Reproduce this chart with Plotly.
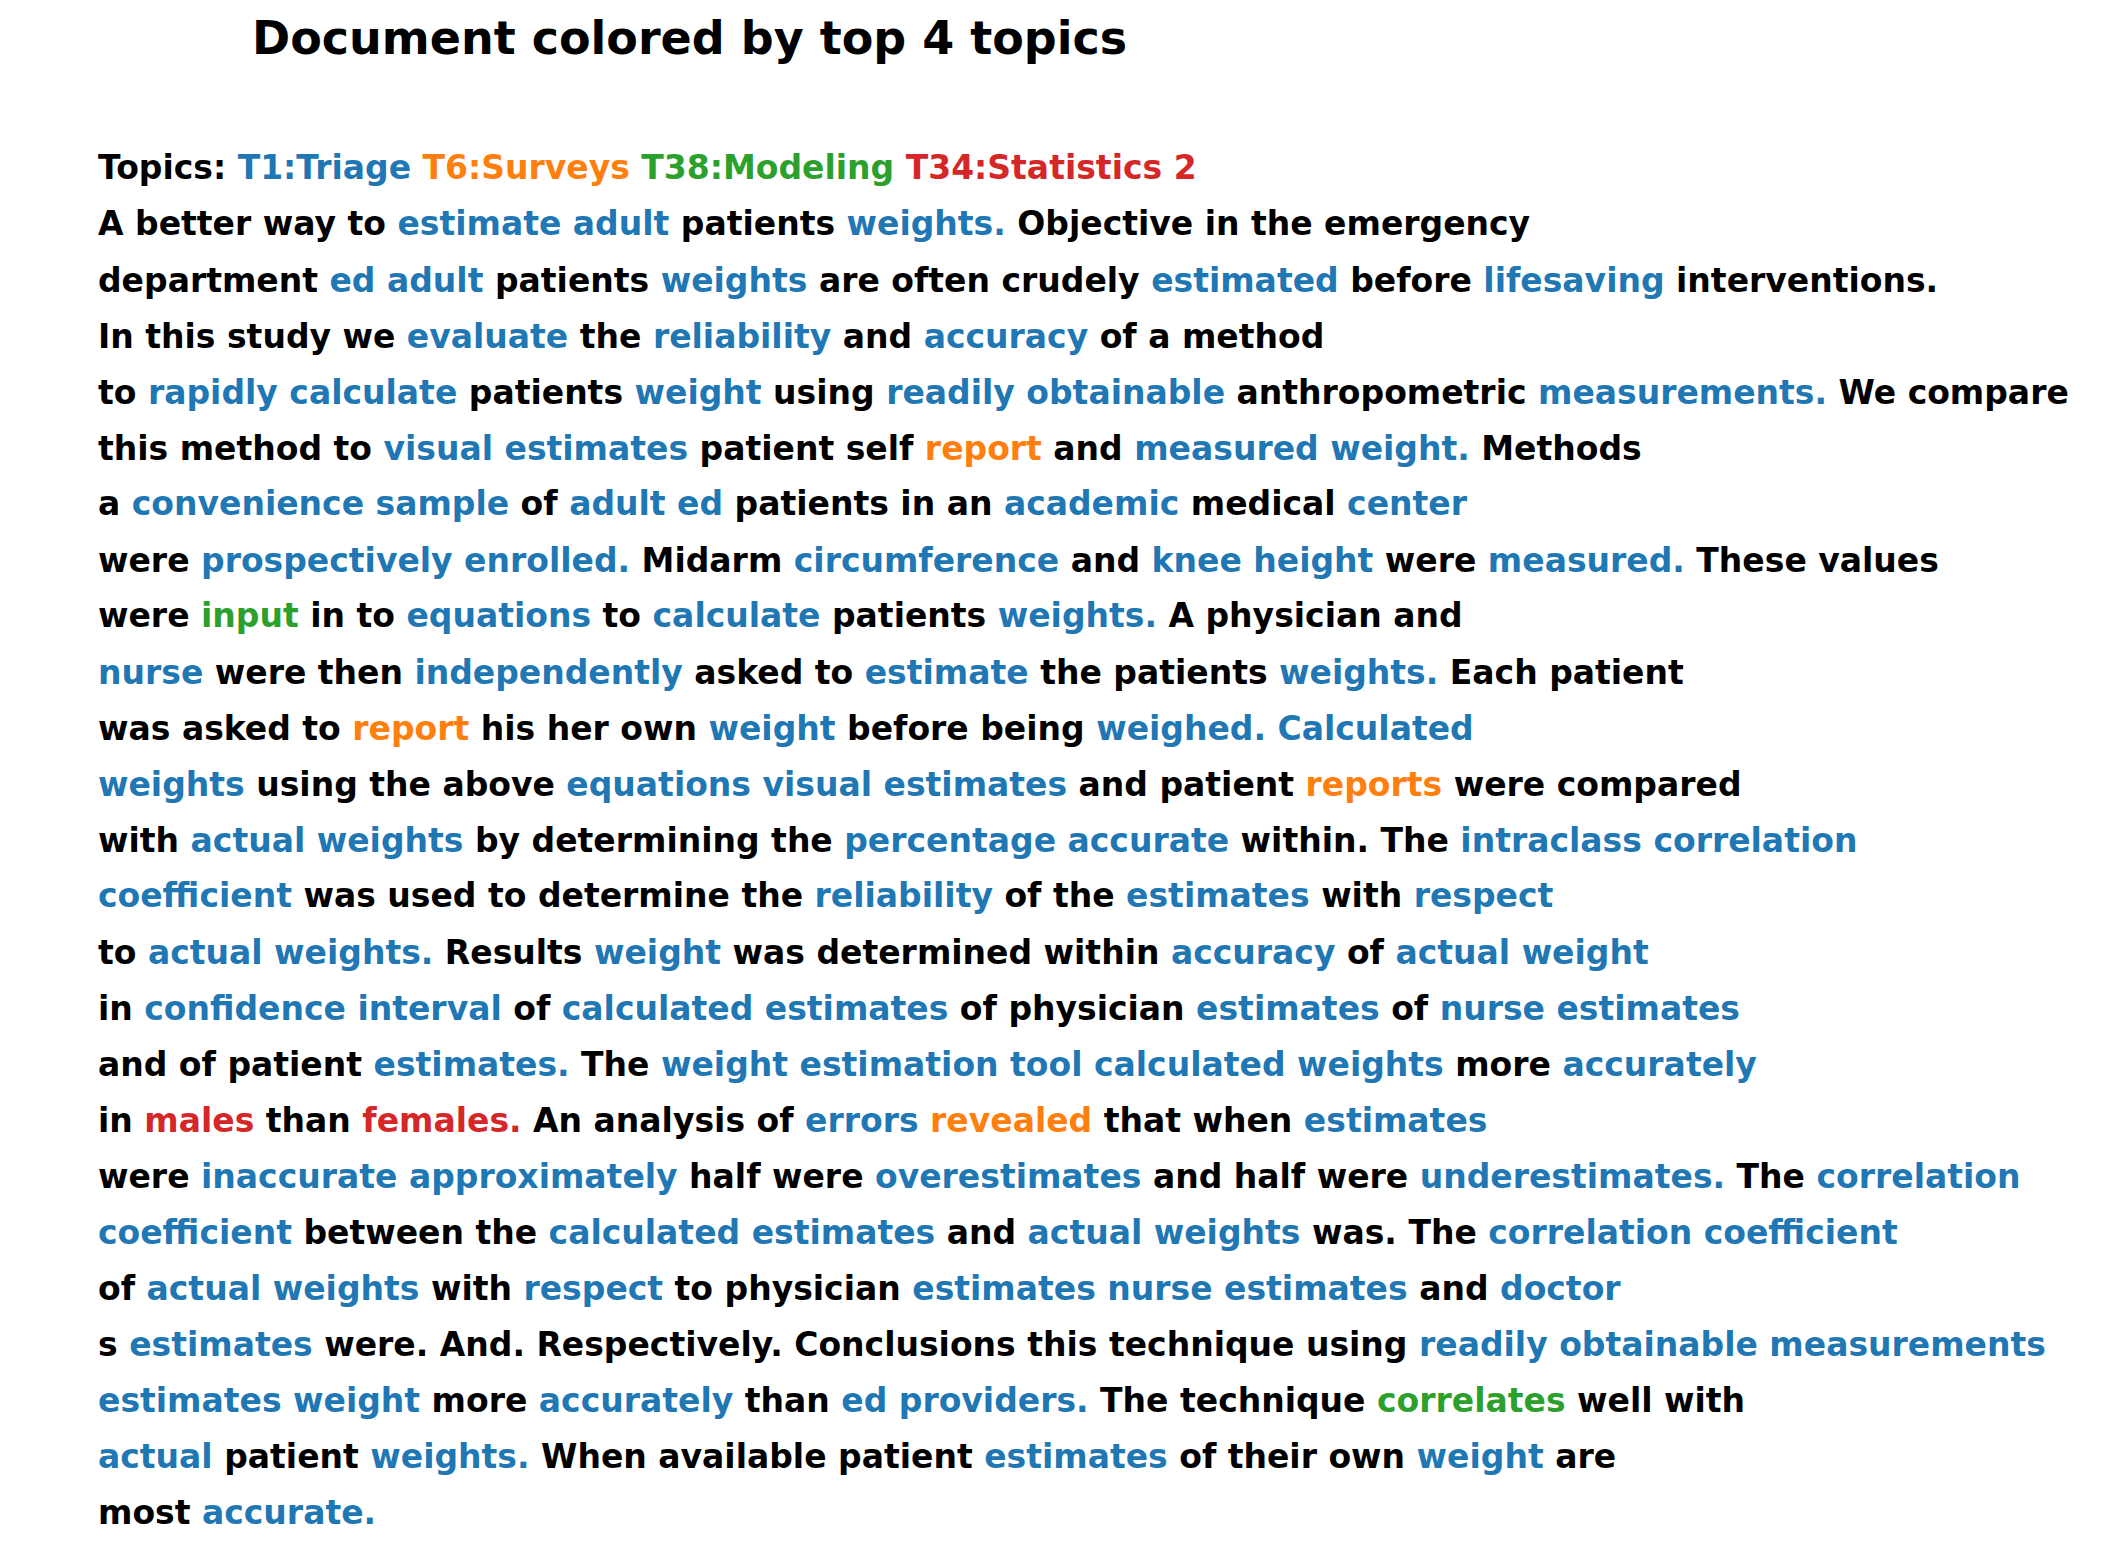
import re
import plotly.graph_objects as go

# topic colours: * T1 blue, ~ T6 orange, ^ T38 green, ! T34 red
topic_colors = {"*": "#1f77b4", "~": "#ff7f0e", "^": "#2ca02c", "!": "#d62728"}

title = "Document colored by top 4 topics"
legend_line = "Topics: *T1:Triage* ~T6:Surveys~ ^T38:Modeling^ !T34:Statistics 2!"

doc_lines = [
    "A better way to *estimate adult* patients *weights.* Objective in the emergency",
    "department *ed adult* patients *weights* are often crudely *estimated* before *lifesaving* interventions.",
    "In this study we *evaluate* the *reliability* and *accuracy* of a method",
    "to *rapidly calculate* patients *weight* using *readily obtainable* anthropometric *measurements.* We compare",
    "this method to *visual estimates* patient self ~report~ and *measured weight.* Methods",
    "a *convenience sample* of *adult ed* patients in an *academic* medical *center*",
    "were *prospectively enrolled.* Midarm *circumference* and *knee height* were *measured.* These values",
    "were ^input^ in to *equations* to *calculate* patients *weights.* A physician and",
    "*nurse* were then *independently* asked to *estimate* the patients *weights.* Each patient",
    "was asked to ~report~ his her own *weight* before being *weighed. Calculated*",
    "*weights* using the above *equations visual estimates* and patient ~reports~ were compared",
    "with *actual weights* by determining the *percentage accurate* within. The *intraclass correlation*",
    "*coefficient* was used to determine the *reliability* of the *estimates* with *respect*",
    "to *actual weights.* Results *weight* was determined within *accuracy* of *actual weight*",
    "in *confidence interval* of *calculated estimates* of physician *estimates* of *nurse estimates*",
    "and of patient *estimates.* The *weight estimation tool calculated weights* more *accurately*",
    "in !males! than !females.! An analysis of *errors* ~revealed~ that when *estimates*",
    "were *inaccurate approximately* half were *overestimates* and half were *underestimates.* The *correlation*",
    "*coefficient* between the *calculated estimates* and *actual weights* was. The *correlation coefficient*",
    "of *actual weights* with *respect* to physician *estimates nurse estimates* and *doctor*",
    "s *estimates* were. And. Respectively. Conclusions this technique using *readily obtainable measurements*",
    "*estimates weight* more *accurately* than *ed providers.* The technique ^correlates^ well with",
    "*actual* patient *weights.* When available patient *estimates* of their own *weight* are",
    "most *accurate.*",
]


def to_html(line):
    out = []
    for part in re.split(r"([*~^!][^*~^!]*[*~^!])", line):
        if not part:
            continue
        if part[0] in topic_colors:
            out.append('<span style="color:%s">%s</span>' % (topic_colors[part[0]], part[1:-1]))
        else:
            out.append('<span style="color:black">%s</span>' % part)
    return "<b>" + "".join(out) + "</b>"


W, H = 2116, 1542
fig = go.Figure()
all_lines = [legend_line] + doc_lines
y0, dy = 160, 56.0
for i, line in enumerate(all_lines):
    fig.add_annotation(
        x=88 / W, y=1 - (y0 + i * dy) / H, xref="paper", yref="paper",
        xanchor="left", yanchor="middle", showarrow=False,
        text=to_html(line), font=dict(family="DejaVu Sans", size=33),
    )

fig.add_annotation(
    x=681 / W, y=1 - 30 / H, xref="paper", yref="paper",
    xanchor="center", yanchor="middle", showarrow=False,
    text="<b>%s</b>" % title, font=dict(family="DejaVu Sans", size=46, color="black"),
)

fig.update_xaxes(visible=False, range=[0, 1])
fig.update_yaxes(visible=False, range=[0, 1])
fig.update_layout(
    width=W, height=H, margin=dict(l=0, r=0, t=0, b=0),
    plot_bgcolor="white", paper_bgcolor="white", showlegend=False,
)
fig.write_html("out.html")
